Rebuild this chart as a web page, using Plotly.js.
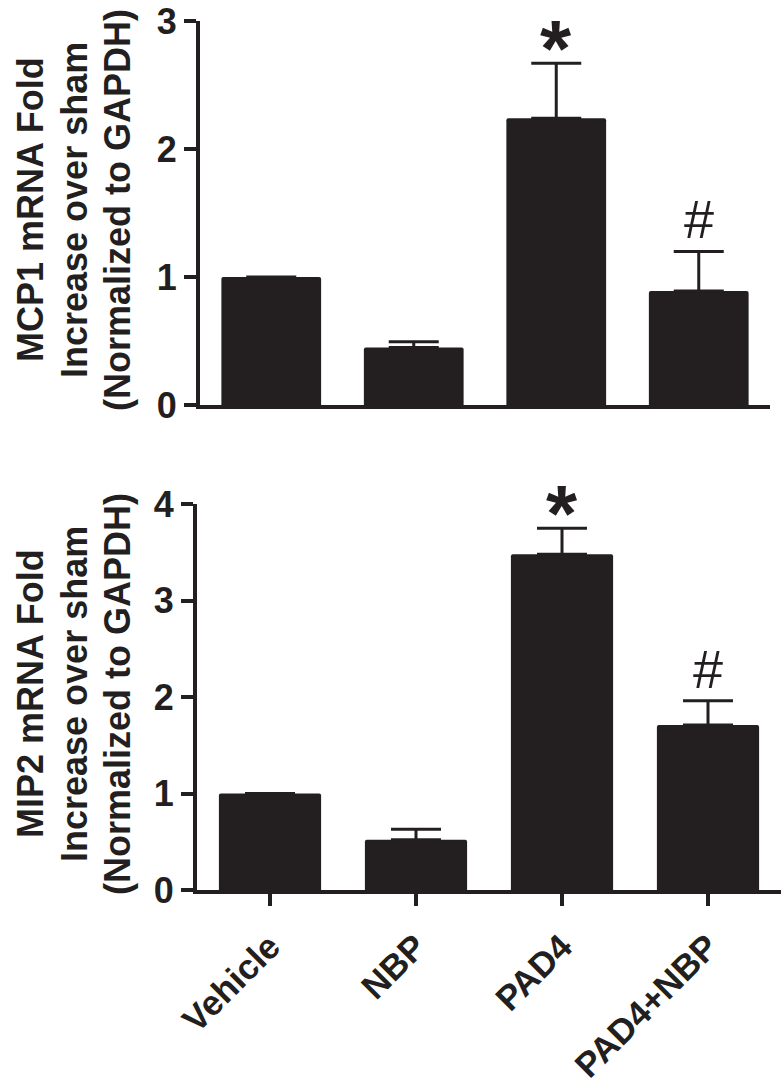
<!DOCTYPE html>
<html>
<head>
<meta charset="utf-8">
<script src="https://cdn.plot.ly/plotly-3.0.1.min.js"></script>
<style>html,body{margin:0;padding:0;background:#fff;}#chart{width:784px;height:1091px;}</style>
</head>
<body>
<div id="chart"></div>
<script>
const categories = ["Vehicle", "NBP", "PAD4", "PAD4+NBP"];
const mcp1Mean = [1.0, 0.45, 2.24, 0.89];
const mcp1Err = [0, 0.045, 0.43, 0.31];
const mcp1Sig = ["", "", "*", "#"];
const mip2Mean = [1.0, 0.52, 3.48, 1.71];
const mip2Err = [0, 0.11, 0.27, 0.25];
const mip2Sig = ["", "", "*", "#"];
const mcp1Ticks = [0, 1, 2, 3];
const mip2Ticks = [0, 1, 2, 3, 4];
const mcp1TitleLines = ["MCP1 mRNA Fold", "Increase over sham", "(Normalized to GAPDH)"];
const mip2TitleLines = ["MIP2 mRNA Fold", "Increase over sham", "(Normalized to GAPDH)"];

const INK = "#231f20";
const FAM = "Liberation Sans, Arial, Helvetica, sans-serif";
const W = 784, H = 1091;

function barTrace(means, errs, xa, ya) {
  return {
    type: "bar", x: categories, y: means, xaxis: xa, yaxis: ya,
    width: 0.7,
    marker: {color: INK, line: {width: 0}, cornerradius: 2},
    error_y: {type: "data", array: errs, arrayminus: errs.map(() => 0), symmetric: false,
              color: INK, thickness: 3, width: 25, visible: true},
    hoverinfo: "skip", showlegend: false
  };
}

function sigAnns(sig, means, errs, xref, yref) {
  const out = [];
  sig.forEach((s, i) => {
    if (!s) return;
    const isStar = s === "*";
    out.push({
      x: categories[i], y: means[i] + errs[i], xref: xref, yref: yref,
      text: s, showarrow: false, xanchor: "center", yanchor: "bottom",
      yshift: isStar ? -32 : 0,
      font: {family: FAM, size: isStar ? 80 : 54, color: INK, weight: isStar ? "bold" : "normal"}
    });
  });
  return out;
}

function titleAnns(lines, yCenterPx) {
  const xs = [30, 74, 117];
  return lines.map((t, i) => ({
    text: t, xref: "paper", yref: "paper", x: xs[i] / W, y: (H - yCenterPx) / H,
    xanchor: "center", yanchor: "middle", textangle: -90, showarrow: false,
    font: {family: FAM, size: 36, color: INK, weight: "bold"}
  }));
}

const yCommon = {
  showgrid: false, zeroline: false, showline: true, linewidth: 4, linecolor: INK,
  ticks: "outside", ticklen: 12, tickwidth: 4, tickcolor: INK,
  ticklabeloverflow: "allow",
  tickfont: {family: FAM, size: 36, color: INK, weight: "bold"},
  fixedrange: true
};

const layout = {
  width: W, height: H,
  margin: {l: 0, r: 0, t: 0, b: 0},
  paper_bgcolor: "#fff", plot_bgcolor: "#fff",
  xaxis: {
    domain: [200 / W, 770 / W], anchor: "y", range: [-0.5, 3.5],
    showgrid: false, zeroline: false, showline: true, linewidth: 4, linecolor: INK,
    ticks: "", showticklabels: false, fixedrange: true
  },
  yaxis: Object.assign({}, yCommon, {
    domain: [(H - 405) / H, (H - 21) / H], anchor: "x", range: [0, 3],
    tickvals: mcp1Ticks
  }),
  xaxis2: {
    domain: [197 / W, 781 / W], anchor: "y2", range: [-0.5, 3.5],
    showgrid: false, zeroline: false, showline: true, linewidth: 4, linecolor: INK,
    ticks: "outside", ticklen: 12, tickwidth: 4, tickcolor: INK,
    tickangle: -45, ticklabelstandoff: 6, ticklabeloverflow: "allow",
    tickfont: {family: FAM, size: 35, color: INK, weight: "bold"},
    fixedrange: true
  },
  yaxis2: Object.assign({}, yCommon, {
    domain: [(H - 890) / H, (H - 504) / H], anchor: "x2", range: [0, 4],
    tickvals: mip2Ticks
  }),
  annotations: titleAnns(mcp1TitleLines, 210)
    .concat(titleAnns(mip2TitleLines, 694))
    .concat(sigAnns(mcp1Sig, mcp1Mean, mcp1Err, "x", "y"))
    .concat(sigAnns(mip2Sig, mip2Mean, mip2Err, "x2", "y2"))
};

Plotly.newPlot("chart", [
  barTrace(mcp1Mean, mcp1Err, "x", "y"),
  barTrace(mip2Mean, mip2Err, "x2", "y2")
], layout, {staticPlot: true, displayModeBar: false});
</script>
</body>
</html>
